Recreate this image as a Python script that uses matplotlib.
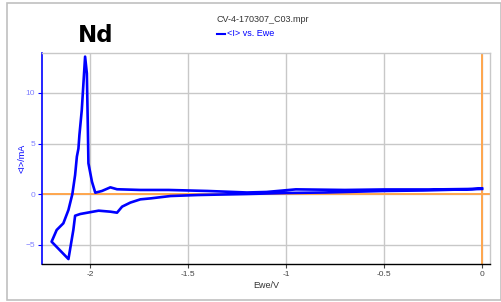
import matplotlib
matplotlib.use('Agg')
import matplotlib.pyplot as plt
from matplotlib.patches import Rectangle

# cathodic sweep: 0 V -> vertex
ewe_fwd = [0.0, -0.3, -0.5, -0.8, -1.0, -1.2, -1.45, -1.59, -1.69, -1.744, -1.795,
           -1.837, -1.863, -1.897, -1.957, -2.0, -2.051, -2.077, -2.086, -2.111, -2.197]
i_fwd = [0.5, 0.35, 0.3, 0.15, 0.1, 0.0, -0.1, -0.2, -0.43, -0.53, -0.85,
         -1.25, -1.85, -1.75, -1.65, -1.8, -1.98, -2.15, -3.56, -6.44, -4.72]

# anodic sweep: vertex -> 0 V
ewe_rev = [-2.171, -2.137, -2.111, -2.091, -2.077, -2.068, -2.060, -2.055, -2.043,
           -2.034, -2.026, -2.017, -2.012, -2.009, -1.991, -1.974, -1.94, -1.897,
           -1.863, -1.744, -1.6, -1.4, -1.2, -1.1, -0.95, -0.7, -0.5, -0.25, -0.05, 0.0]
i_rev = [-3.56, -2.9, -1.58, 0.0, 1.88, 3.7, 4.5, 5.84, 8.3,
         11.1, 13.6, 11.95, 6.66, 3.04, 1.22, 0.13, 0.3, 0.66,
         0.47, 0.4, 0.4, 0.3, 0.15, 0.2, 0.46, 0.4, 0.45, 0.45, 0.5, 0.56]

x_ticks = [-2, -1.5, -1, -0.5, 0]
x_tick_labels = ['-2', '-1.5', '-1', '-0.5', '0']
y_ticks = [-5, 0, 5, 10]

font = ['Liberation Sans Narrow', 'Liberation Sans', 'DejaVu Sans']
plt.rcParams['font.family'] = font

fig = plt.figure(figsize=(5.02, 3.02), dpi=100)
fig.patches.append(Rectangle((7 / 502, 2 / 302), 1 - 8 / 502, 1 - 5 / 302,
                             transform=fig.transFigure, fill=False,
                             edgecolor='#c0c0c0', lw=1.2))

ax = fig.add_axes([42 / 502, 1 - 264 / 302, 448 / 502, 211 / 302])
ax.set_xlim(-2.246, 0.041)
ax.set_ylim(-6.93, 13.96)

ax.grid(True, color='#c8c8c8', lw=1)
ax.set_axisbelow(True)

ax.axhline(0, color='#ffa64d', lw=1.4, zorder=2)
ax.axvline(0, color='#ffa64d', lw=1.4, zorder=2)

ax.plot(ewe_fwd + ewe_rev, i_fwd + i_rev, color='#0000ff', lw=1.9, zorder=3)

ax.set_xticks(x_ticks)
ax.set_xticklabels(x_tick_labels)
ax.set_yticks(y_ticks)
ax.tick_params(axis='x', labelsize=6, colors='#444444', length=3, width=0.8, pad=2)
ax.tick_params(axis='y', labelsize=6, colors='#0000ff', labelcolor='#8080ff',
               length=3, width=0.8, pad=2)

for side in ['top', 'right']:
    ax.spines[side].set_color('#c8c8c8')
    ax.spines[side].set_linewidth(1)
ax.spines['left'].set_color('#0000ff')
ax.spines['left'].set_linewidth(1.2)
ax.spines['bottom'].set_color('#000000')
ax.spines['bottom'].set_linewidth(1)

fig.text(22 / 502, 1 - 158 / 302, '<I>/mA', rotation=90, ha='center', va='center',
         fontsize=6.5, color='#0000ff')
fig.text(266 / 502, 1 - 285 / 302, 'Ewe/V', ha='center', va='center',
         fontsize=6.5, color='#333333')

fig.text(96 / 502, 1 - 42 / 302, 'Nd', ha='center', va='baseline',
         fontsize=16.5, fontweight='bold', color='black', family=['DejaVu Sans'])
fig.text(217 / 502, 1 - 19 / 302, 'CV-4-170307_C03.mpr', ha='left', va='center',
         fontsize=6.5, color='#333333')
fig.text(227 / 502, 1 - 34 / 302, '<I> vs. Ewe', ha='left', va='center',
         fontsize=6.5, color='#0000ff')
fig.lines.append(plt.Line2D([217 / 502, 225 / 502], [1 - 34 / 302, 1 - 34 / 302],
                            transform=fig.transFigure, color='#0000ff', lw=1.5))

fig.savefig('out.png', dpi=100)
